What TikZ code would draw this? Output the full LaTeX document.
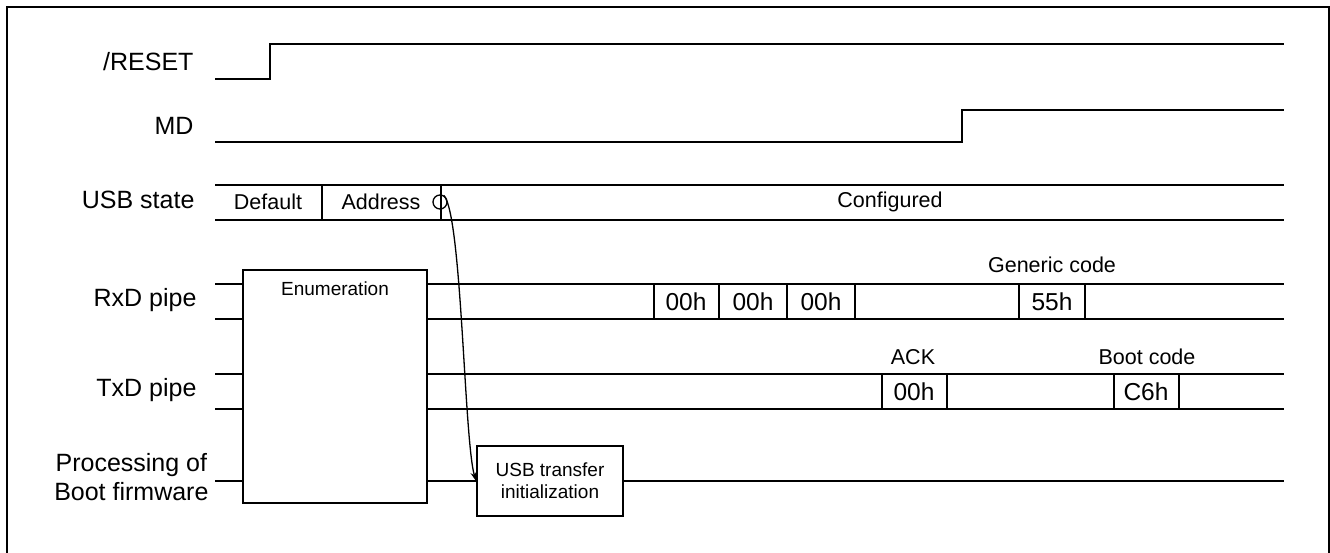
\documentclass[tikz,border=0pt]{standalone}
\usepackage{fontspec}
\setmainfont{Liberation Sans}
\usetikzlibrary{arrows.meta}

\tikzset{
	sig/.style={line width=2pt},
	cell/.style={line width=1.3pt},
	sigtext/.style={anchor=east, font=\fontsize{25}{29}\selectfont},
	celltext/.style={font=\fontsize{24.5}{27}\selectfont},
	statetext/.style={font=\fontsize{21.5}{24}\selectfont},
	smalltext/.style={font=\fontsize{19}{22}\selectfont},
	procbox/.style={draw, line width=2pt, inner sep=0pt}
}

\begin{document}
\begin{tikzpicture}[x=1pt,y=-1pt]
		\useasboundingbox (0,0) rectangle (1330,553);
		% Frame
		\draw[line width=2pt] (7,560) -- (7,7) -- (1329,7) -- (1329,560);
		% Signal names
		\node[sigtext] (nreset) at (197,62) {/RESET};
		\node[sigtext] (nmd) at (197,126) {MD};
		\node[sigtext] (nusb) at (198,200) {USB state};
		\node[sigtext] (nrxd) at (200,300) {RxD pipe};
		\node[sigtext] (ntxd) at (200,390) {TxD pipe};
		\node[sigtext, align=center] (nproc) at (212,477)
			{Processing of\\Boot firmware};
		% /RESET and MD
		\draw[sig] (215,79) -- (270,79) -- (270,44) -- (1284,44);
		\draw[sig] (215,142) -- (962,142) -- (962,110) -- (1284,110);
		% USB state
		\begin{scope}
			\draw[sig] (215,185) -- (1284,185);
			\draw[sig] (215,220) -- (1284,220);
			\draw[sig] (322,185) -- (322,220);
			\draw[cell] (441,185) -- (441,220);
			\node[statetext] at (268,202) {Default};
			\node[statetext] at (381,202) {Address};
			\node[statetext] at (890,202) {Configured};
			\node[draw, circle, cell, minimum size=14pt, inner sep=0pt] (addr) at (440,202) {};
		\end{scope}
		% Enumeration block
		\node[procbox, minimum width=184pt, minimum height=233pt] (enum) at (335,386.5) {};
		\node[smalltext, below=9pt] at (enum.north) {Enumeration};
		% RxD pipe
		\begin{scope}
			\draw[sig] (215,284) -- (enum.west |- 0,284);
			\draw[sig] (215,319) -- (enum.west |- 0,319);
			\draw[sig] (enum.east |- 0,284) -- (1284,284);
			\draw[sig] (enum.east |- 0,319) -- (1284,319);
			\foreach \x in {654,719,787,855,1019,1085}
				\draw[cell] (\x,284) -- (\x,319);
			\foreach \x/\t in {686/00h,753/00h,821/00h,1052/55h}
				\node[celltext] at (\x,302) {\t};
			\node[statetext] at (1052,265) {Generic code};
		\end{scope}
		% TxD pipe
		\begin{scope}
			\draw[sig] (215,374) -- (enum.west |- 0,374);
			\draw[sig] (215,409) -- (enum.west |- 0,409);
			\draw[sig] (enum.east |- 0,374) -- (1284,374);
			\draw[sig] (enum.east |- 0,409) -- (1284,409);
			\foreach \x in {882,947,1114,1179}
				\draw[cell] (\x,374) -- (\x,409);
			\foreach \x/\t in {914/00h,1146/C6h}
				\node[celltext] at (\x,392) {\t};
			\node[statetext] at (913,357) {ACK};
			\node[statetext] at (1147,357) {Boot code};
		\end{scope}
		% Processing of Boot firmware
		\node[procbox, minimum width=146pt, minimum height=70pt, align=center,
			smalltext] (usbinit) at (550,481) {USB transfer\\initialization};
		\draw[sig] (215,481) -- (enum.west |- 0,481);
		\draw[sig] (enum.east |- 0,481) -- (usbinit.west);
		\draw[sig] (usbinit.east) -- (1284,481);
		% Start of USB transfer
		\draw[line width=1.3pt, -{Stealth[length=9pt,width=6pt]}]
			(addr.60) .. controls (462,215) and (464,440) .. (usbinit.west);
	\end{tikzpicture}
\end{document}
